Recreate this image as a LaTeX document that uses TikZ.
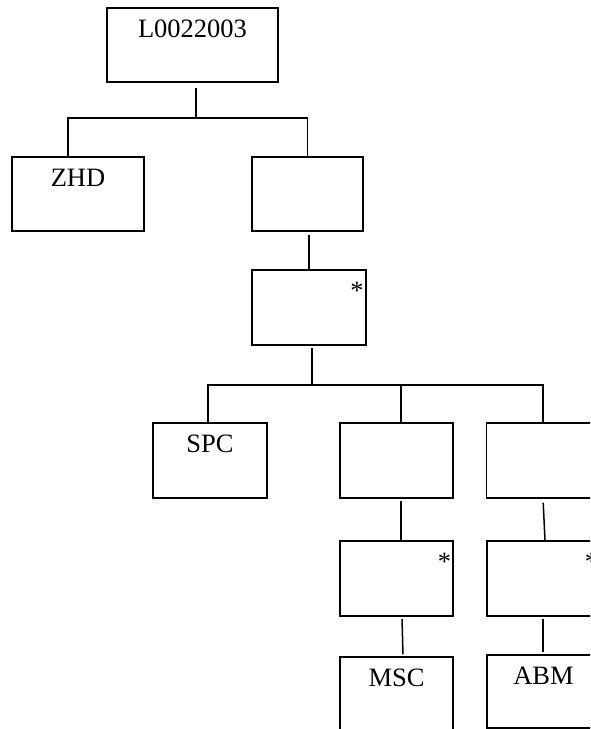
\documentclass[tikz,border=0pt]{standalone}
\usepackage{fontspec}
\setmainfont{Liberation Serif}
\begin{document}
\begin{tikzpicture}[x=1pt, y=-1pt, line width=1.5pt,
    font=\fontsize{26.5}{30}\selectfont,
    box/.style={draw, rectangle, inner sep=0pt, text height=29pt, text depth=45pt},
    tallbox/.style={box, text depth=46pt, minimum width=113pt},
    starbox/.style={tallbox, text width=109pt, align=right}]
  \useasboundingbox (0,0) rectangle (590,729);
  \clip (0,0) rectangle (590,729);
  \node[box, minimum width=171pt] (top) at (192.5,45) {L0022003};
  \node[box, minimum width=132pt] (zhd) at (78,194) {ZHD};
  \node[box, minimum width=111pt] (rbox) at (307.5,194) {};
  \node[starbox, minimum width=114pt] (star1) at (309,307.5) {*};
  \node[tallbox, minimum width=114pt] (spc) at (210,460.5) {SPC};
  \node[tallbox] (mid) at (396.5,460.5) {};  \node[tallbox] (right) at (543,460.5) {};
  \node[starbox] (star2) at (396.5,578.5) {*}; \node[starbox] (star3) at (543.5,578.5) {*};
  \node[tallbox] (msc) at (396.5,694.5) {MSC};
  \node[box, text depth=44pt, minimum width=113pt] (abm) at (543.5,691.5) {ABM};
  \coordinate (t1) at (196,118);
  \coordinate (t2) at (312,385);
  \draw[shorten <=5pt] ([xshift=3.5pt]top.south) -- (t1);
  \draw ([xshift=-10pt]zhd.north) |- (t1) -| (rbox.north);
  \draw[shorten <=3pt] ([xshift=1.5pt]rbox.south) -- (star1.north);
  \draw[shorten <=2pt] ([xshift=3pt]star1.south) -- (t2);
  \draw ([xshift=-2pt]spc.north) |- (t2) -| (right.north);
  \draw ([xshift=4.5pt]mid.north) -- ([xshift=4.5pt]mid.north |- t2);
  \draw[shorten <=2pt] ([xshift=4.5pt]mid.south) -- ([xshift=4.5pt]star2.north);
  \draw[shorten <=2pt, shorten >=2pt] ([xshift=5.5pt]star2.south) -- ([xshift=6.5pt]msc.north);
  \draw[shorten <=4pt] (right.south) -- ([xshift=1.5pt]star3.north);
  \draw[shorten <=2pt, shorten >=2pt] ([xshift=-0.5pt]star3.south) -- ([xshift=-0.5pt]abm.north);
\end{tikzpicture}
\end{document}
